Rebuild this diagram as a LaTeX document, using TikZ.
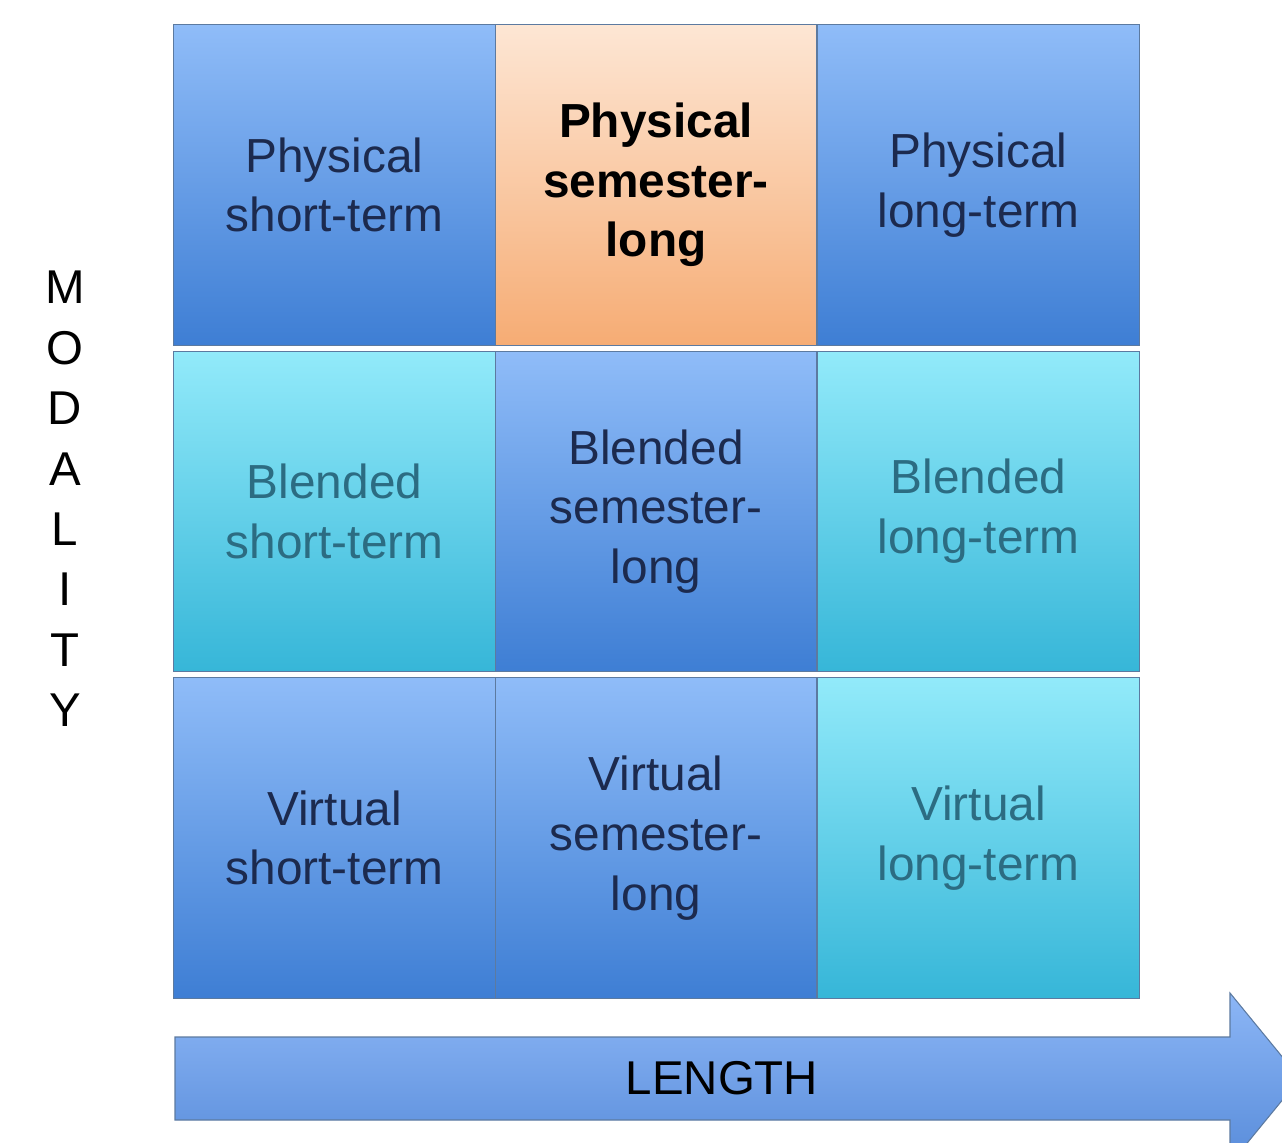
\documentclass[tikz,border=0pt]{standalone}
\usepackage{fontspec}
\setmainfont{Liberation Sans}
\definecolor{blueTop}{RGB}{143,188,248}
\definecolor{blueBot}{RGB}{62,126,212}
\definecolor{cyanTop}{RGB}{146,234,250}
\definecolor{cyanBot}{RGB}{54,182,216}
\definecolor{orangeTop}{RGB}{253,230,212}
\definecolor{orangeBot}{RGB}{246,172,116}
\definecolor{cellLine}{RGB}{92,122,160}
\definecolor{navyText}{RGB}{28,42,78}
\definecolor{tealText}{RGB}{44,108,130}
\definecolor{arrowTop}{RGB}{140,182,246}
\definecolor{arrowBot}{RGB}{88,140,218}
\begin{document}
\begin{tikzpicture}[
    x=0.02cm, y=-0.02cm,
    cell/.style={rectangle, draw=cellLine, line width=0.6pt, minimum width=6.43cm, minimum height=6.41cm,
        inner sep=0pt, outer sep=0pt, align=center, font=\fontsize{27.2}{34}\selectfont},
    bluecell/.style={cell, top color=blueTop, bottom color=blueBot, text=navyText},
    cyancell/.style={cell, top color=cyanTop, bottom color=cyanBot, text=tealText},
    orangecell/.style={cell, top color=orangeTop, bottom color=orangeBot, text=black, font=\fontsize{27.2}{34}\selectfont\bfseries},
    axislabel/.style={align=center, inner sep=0pt, font=\fontsize{27}{34.4}\selectfont}
]
\useasboundingbox (0,0) rectangle (1282,1143);

% Row 1: Physical
\node[bluecell] (physShort) at (334.5,185) {Physical\\short-term};
\node[orangecell] (physSem) at (656,185) {Physical\\semester-\\long};
\node[bluecell] (physLong) at (978.5,185) {Physical\\long-term};

% Row 2: Blended
\node[cyancell] (blendShort) at (334.5,511.5) {Blended\\short-term};
\node[bluecell] (blendSem) at (656,511.5) {Blended\\semester-\\long};
\node[cyancell] (blendLong) at (978.5,511.5) {Blended\\long-term};

% Row 3: Virtual
\node[bluecell] (virtShort) at (334.5,838) {Virtual\\short-term};
\node[bluecell] (virtSem) at (656,838) {Virtual\\semester-\\long};
\node[cyancell] (virtLong) at (978.5,838) {Virtual\\long-term};

% Axis: length
\path[draw=cellLine, line width=0.6pt, top color=arrowTop, bottom color=arrowBot]
    (175,1037) -- (1230,1037) -- (1230,993) -- (1300,1078.5) -- (1230,1164)
    -- (1230,1120) -- (175,1120) -- cycle;
\node[axislabel] (length) at (722,1078.5) {LENGTH};

% Axis: modality
\node[axislabel] (modality) at (65,499) {M\\O\\D\\A\\L\\I\\T\\Y};

\end{tikzpicture}
\end{document}
